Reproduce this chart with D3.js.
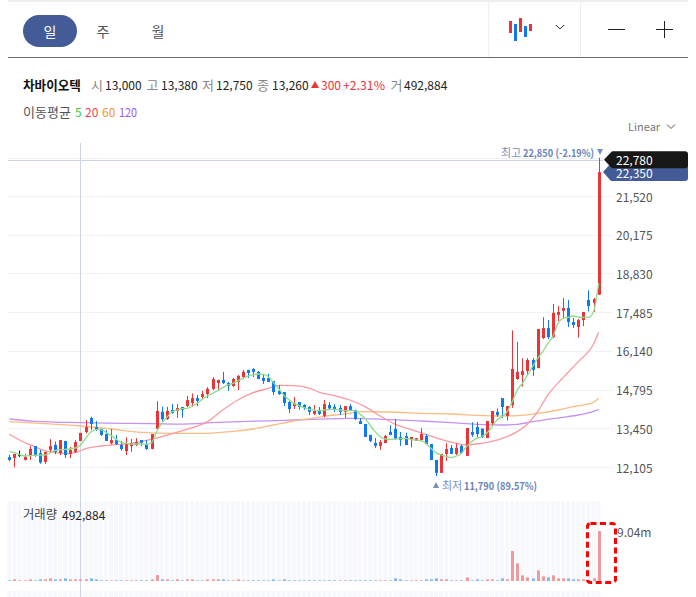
<!DOCTYPE html>
<html lang="ko"><head><meta charset="utf-8">
<script src="https://cdn.jsdelivr.net/npm/d3@7/dist/d3.min.js"></script>
<style>html,body{margin:0;padding:0;background:#fff;overflow:hidden}svg{display:block}text{font-family:"Noto Sans CJK KR","Noto Sans",sans-serif}</style>
</head><body><svg id="c" width="696" height="597"></svg>
<script>
const open=[12450,12420,12530,12350,12490,12830,12590,12280,12700,12870,12590,13010,12560,12630,13010,13320,13810,13490,13430,13250,12930,13040,12870,12660,12830,12870,13040,12900,12730,13430,14020,13770,14090,14050,14190,14220,14330,14500,14540,14640,14820,15020,15130,15020,14920,15060,15230,15480,15510,15410,15200,15200,15090,14750,14710,14360,14220,14360,14260,14190,13950,14090,13880,14260,14200,14160,14020,14220,14090,13700,13600,13220,12940,12840,12940,13320,13430,13150,13180,13040,13010,13040,13180,12900,12350,11900,12560,12770,12560,12840,12490,13320,13500,13440,13110,13620,14020,14500,13880,14260,15160,15300,15440,15820,15540,16590,16930,16620,17390,17530,17630,17140,16970,17210,17910,17800,18090];
const close=[12350,12560,12530,12450,12730,12490,12260,12630,12830,12630,13040,12520,12700,12970,13290,13490,13600,13390,13220,13010,13040,12900,12730,12900,12940,12970,12950,12730,13250,14050,13770,14050,13980,14150,14090,14430,14500,14400,14640,14820,15160,15130,15020,14920,15160,15270,15410,15370,15410,15160,15090,15060,14710,14640,14330,14120,14330,14190,14150,14020,14050,13950,14290,14140,14090,14020,14220,14090,13770,13600,13150,13010,12840,12970,13180,13220,13080,13040,12870,13150,13110,13250,12900,12350,11900,12560,12730,12560,12770,12590,13460,13220,13250,13140,13700,14050,13910,14190,14220,15510,15410,15440,15820,15480,16900,16930,16620,17460,17490,17630,17140,17040,17210,17490,17700,17940,22350];
const high=[12530,12560,12680,12560,12830,12830,12700,12630,13070,12990,13040,13010,12800,13040,13290,13740,13850,13700,13430,13390,13430,13220,13010,13140,13080,13110,13040,13040,13250,14390,14200,14200,14290,14290,14190,14570,14660,14610,14750,14880,15230,15130,15410,15060,15200,15300,15480,15480,15540,15440,15340,15340,15090,14950,14710,14400,14540,14360,14290,14220,14260,14190,14430,14360,14290,14260,14220,14290,14090,13810,13600,13220,13110,13040,13220,13560,13770,13320,13300,13150,13110,13450,13250,12900,12350,12560,12930,12870,12930,12870,13460,13660,13670,13440,13700,14050,14140,14500,14220,16850,16450,15880,15890,15890,16900,17310,17210,17770,17700,17980,17910,17280,17250,17490,18250,17980,22850];
const low=[12300,12090,12450,12330,12350,12460,12220,12210,12630,12550,12520,12420,12420,12590,13010,13270,13390,13360,13180,13010,12890,12870,12670,12520,12630,12830,12830,12700,12720,13430,13700,13740,13950,13810,13820,14190,14190,14220,14470,14500,14780,14780,14990,14750,14880,14780,15200,15200,15230,15160,14990,15060,14610,14610,14220,13980,14120,14090,14090,13910,13910,13910,13830,14090,14020,13910,13810,14050,13740,13600,13150,12970,12770,12700,12930,13220,13040,12840,12870,12790,13010,13010,12900,12350,11790,11900,12310,12560,12520,12560,12490,13150,13150,13110,13110,13530,13850,13800,13720,14160,15130,14900,15300,15270,15540,16550,16550,16580,17180,17250,16970,16930,16600,17000,17510,17490,18090];
const volume=[.12,.30,.12,.12,.30,.12,.30,.30,.48,.30,.30,.48,.30,.30,.30,.30,.48,.30,.12,.12,.12,.12,.12,.12,.12,.12,.12,.12,.30,1.08,.30,.30,.12,.30,.12,.30,.30,.12,.12,.30,.30,.30,.30,.12,.12,.30,.12,.12,.12,.12,.12,.12,.30,.12,.30,.12,.12,.12,.12,.12,.12,.12,.12,.12,.12,.12,.12,.12,.12,.12,.12,.12,.12,.12,.12,.12,.48,.30,.12,.12,.12,.12,.30,.30,.48,.30,.30,.12,.12,.12,.66,.12,.30,.12,.30,.30,.12,.48,.30,5.42,3.19,1.02,.66,.48,1.93,.84,.66,1.02,.48,.48,.48,.30,.30,.30,.12,.48,9.04];
const ma5Idx=[0,1,3,5,7,9,11,13,14,15,16,17,18,19,20,21,22,23,24,26,27,28,29,30,31,32,33,34,35,36,37,38,39,40,41,42,43,44,45,46,47,48,49,50,51,52,53,54,55,56,57,58,59,60,61,62,64,66,68,69,70,71,72,73,74,75,76,77,78,79,80,81,82,83,84,85,86,87,88,89,90,91,92,93,94,95,96,97,98,99,100,101,102,103,104,105,106,107,108,109,110,111,112,113,114,115,116];
const ma5=[12649,12603,12487,12510,12522,12672,12719,12765,12869,13101,13309,13402,13402,13309,13205,13078,12962,12927,12904,12904,12892,12950,13332,13622,13830,14016,14085,14131,14143,14224,14317,14456,14571,14664,14757,14861,14954,15011,15104,15185,15266,15312,15336,15324,15243,15035,14838,14606,14456,14317,14247,14166,14108,14085,14062,14085,14108,14062,14062,13946,13796,13564,13333,13159,13078,13066,13078,13089,13101,13066,13043,13020,12927,12754,12603,12522,12476,12429,12487,12580,12811,12985,13101,13159,13275,13506,13738,13854,14027,14375,14780,15012,15301,15591,15880,16112,16401,16633,17096,17270,17305,17351,17316,17305,17305,17502,18486];
const ma20Idx=[0,2,5,7,9,11,13,15,18,21,24,27,30,33,36,39,42,45,48,51,53,56,59,61,64,67,70,73,76,79,82,85,88,90,92,96,98,100,102,104,106,109,112,115,116];
const ma20=[13251,13043,12811,12672,12614,12580,12603,12742,12834,12881,12927,13031,13159,13309,13471,13680,14085,14432,14687,14838,14942,14930,14849,14699,14583,14433,14201,13877,13587,13414,13240,13066,12927,12869,12904,13043,13159,13333,13599,14027,14606,15209,15765,16378,16783];
const ma60Idx=[0,6,14,20,26,32,36,39,44,48,52,56,61,64,67,69,75,81,87,92,97,100,104,107,111,115,116];
const ma60=[13680,13622,13529,13425,13309,13270,13274,13274,13344,13425,13564,13703,13840,13912,13969,14027,14016,13969,13946,13900,13877,13888,13969,14051,14201,14352,14502];
const ma120Idx=[0,5,14,22,28,34,41,47,54,61,67,74,81,87,92,97,100,103,106,109,112,115,116];
const ma120=[13772,13691,13645,13622,13610,13598,13656,13691,13726,13770,13796,13761,13703,13645,13587,13564,13587,13680,13761,13831,13912,14039,14109];
const priceTicks=[21520,20175,18830,17485,16140,14795,13450,12105];

const RED="#ee3338",BLUE="#0f7aec",n=open.length;
const svg=d3.select("#c");
const x=d3.scaleLinear().domain([0,116]).range([9.3,598.6]);
const y=d3.scaleLinear().domain([12105,21520]).range([467,196]);
const vy=d3.scaleLinear().domain([0,9.04]).range([581,531]);
const fmt=d3.format(",");
const T=(tx,ty,s,o={})=>{const e=svg.append("text").attr("x",tx).attr("y",ty).attr("font-size",o.size||12).attr("fill",o.fill||"#222")
  .attr("font-weight",o.w||400).attr("text-anchor",o.a||"start").attr("dominant-baseline","central").text(s);
  if(o.len)e.attr("textLength",o.len).attr("lengthAdjust","spacingAndGlyphs");return e;};
const L=(a,b,c,d,col,w=1)=>svg.append("line").attr("x1",a).attr("y1",b).attr("x2",c).attr("y2",d).attr("stroke",col).attr("stroke-width",w);

// header
L(8,1,688,1,"#eeeeee",2); L(8,57.5,688,57.5,"#66696e",1.2);
L(488.5,2,488.5,57,"#eeeeee"); L(580.5,2,580.5,57,"#eeeeee");
svg.append("rect").attr("x",23).attr("y",15).attr("width",54).attr("height",32).attr("rx",16).attr("fill","#435b96");
T(50,31,"일",{size:14,fill:"#fff",a:"middle"});
T(103,31,"주",{size:14,fill:"#555",a:"middle"});
T(158,31,"월",{size:14,fill:"#555",a:"middle"});
[[509,21,33,RED],[514,24,41,BLUE],[519,18,32,RED],[524,26,37,BLUE],[529,24,31,RED]].forEach(d=>
  svg.append("rect").attr("x",d[0]).attr("y",d[1]).attr("width",3).attr("height",d[2]-d[1]).attr("fill",d[3]));
const chev=(cx,cy,c)=>svg.append("path").attr("d",`M${cx-4},${cy-2}L${cx},${cy+2}L${cx+4},${cy-2}`).attr("fill","none").attr("stroke",c).attr("stroke-width",1);
chev(560,27,"#333");
L(608,29.5,625,29.5,"#222"); L(656,29.5,673,29.5,"#222"); L(664.5,21,664.5,38,"#222");

// info row
T(23,84,"차바이오텍",{size:12.6,fill:"#111",w:700});
const info=[[91,"시","#888"],[105,"13,000","#222"],[146.5,"고","#888"],[161,"13,380","#222"],[202,"저","#888"],[216,"12,750","#222"],[257,"종","#888"],[272,"13,260","#222"]];
info.forEach(d=>T(d[0],84.5,d[1],{size:d[2]=="#888"?13:12,fill:d[2]}));
svg.append("path").attr("d","M311,88L319,88L315,81Z").attr("fill",RED);
T(321,84.5,"300",{size:12,fill:RED}); T(343,84.5,"+2.31%",{size:12,fill:RED,len:42});
T(390.5,84.5,"거",{size:13,fill:"#888"}); T(404,84.5,"492,884",{size:12,fill:"#222"});
T(23,111,"이동평균",{size:13,fill:"#555"});
T(75,111,"5",{size:12,fill:"#3fc43f"}); T(85,111,"20",{size:12,fill:"#f5424e"}); T(102,111,"60",{size:12,fill:"#f7933a"}); T(119,111,"120",{size:12,fill:"#9a5cf5",len:18});
T(628,126,"Linear",{size:11,fill:"#777"}); chev(671,126.5,"#555");

// grid + ticks
svg.append("g").selectAll("line").data(priceTicks).join("line").attr("x1",8).attr("x2",612)
  .attr("y1",d=>Math.round(y(d))+.5).attr("y2",d=>Math.round(y(d))+.5).attr("stroke","#f1f2f5");
svg.append("g").selectAll("text").data(priceTicks).join("text").attr("x",616).attr("y",d=>y(d)).attr("font-size",12)
  .attr("fill","#555").attr("dominant-baseline","central").text(fmt);

// volume pane stripes
const band=svg.append("g");
d3.range(n).forEach(i=>{
  band.append("rect").attr("x",x(i)-2).attr("y",501).attr("width",4).attr("height",80).attr("fill","#f7f8fb");
  band.append("rect").attr("x",x(i)-2).attr("y",591).attr("width",4).attr("height",6).attr("fill","#f7f8fb");
});
L(8,158.5,603,158.5,"#eef0f4"); L(8,160.5,603,160.5,"#cdd5e3");
L(80.5,143,80.5,597,"#cdd5e3");

// moving averages
const line=(idx,v,c)=>svg.append("path").datum(idx.map((d,k)=>[x(d),y(v[k])])).attr("fill","none").attr("stroke",c)
  .attr("stroke-width",1.3).attr("d",d3.line().curve(d3.curveMonotoneX));
line(ma120Idx,ma120,"#c493f5"); line(ma60Idx,ma60,"#fabd85"); line(ma20Idx,ma20,"#fb9aa0");

// candles
const g=svg.append("g");
const col=i=>close[i]>open[i]?RED:close[i]<open[i]?BLUE:"#111";
d3.range(n).forEach(i=>{
  const X=Math.round(x(i));
  g.append("rect").attr("x",X).attr("width",1).attr("y",y(high[i])).attr("height",Math.max(1,y(low[i])-y(high[i]))).attr("fill",col(i));
  const t=y(Math.max(open[i],close[i])),b=y(Math.min(open[i],close[i]));
  g.append("rect").attr("x",X-1).attr("width",3).attr("y",t).attr("height",Math.max(1,b-t)).attr("fill",col(i));
});
line(ma5Idx,ma5,"#8ede8e");

// volume
svg.append("g").selectAll("rect").data(volume).join("rect")
  .attr("x",(d,i)=>Math.round(x(i))-1).attr("width",3).attr("y",d=>vy(d)).attr("height",d=>581-vy(d))
  .attr("fill",(d,i)=>close[i]>=open[i]?"#f09a9e":"#80b9f6");
T(23,514,"거래량",{size:12.3,fill:"#444"}); T(62,514,"492,884",{size:12,fill:"#222"});
T(617,531,"9.04m",{size:12,fill:"#555"});
svg.append("rect").attr("x",587.5).attr("y",523.5).attr("width",28).attr("height",59).attr("rx",3).attr("fill","none").attr("stroke","#f00").attr("stroke-width",3).attr("stroke-dasharray","6 3.5");

// high/low labels
T(501,152,"최고",{size:11,fill:"#7a8fc0"}); T(523,152,"22,850 (-2.19%)",{size:10.5,fill:"#6b82b8",w:700,len:71});
svg.append("path").attr("d","M597,149L603,149L600,155Z").attr("fill","#7a8fc0");
svg.append("path").attr("d","M433,488L439,488L436,482Z").attr("fill","#7a8fc0");
T(442,485,"최저",{size:11,fill:"#7a8fc0"}); T(464,485,"11,790 (89.57%)",{size:10.5,fill:"#6b82b8",w:700,len:73});

// price tags
svg.append("path").attr("d",`M603,${y(22350)}L611,${y(22350)-9}H688V${y(22350)+6}Q688,${y(22350)+9} 685,${y(22350)+9}H611Z`).attr("fill","#435b96");
T(616,y(22350),"22,350",{size:12,fill:"#fff"});
svg.append("path").attr("d",`M604,${y(22780)}L612,${y(22780)-8.5}H685Q688,${y(22780)-8.5} 688,${y(22780)-5.5}V${y(22780)+5.5}Q688,${y(22780)+8.5} 685,${y(22780)+8.5}H612Z`).attr("fill","#171717");
T(616,y(22780),"22,780",{size:12,fill:"#fff"});
</script></body></html>
